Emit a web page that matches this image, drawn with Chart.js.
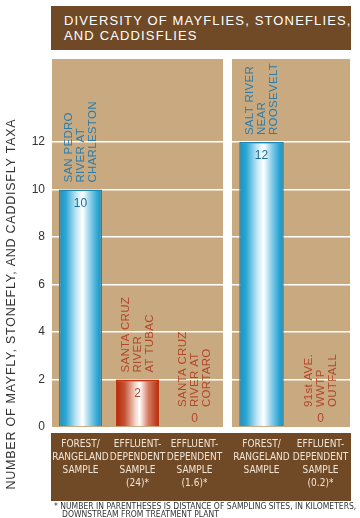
<!DOCTYPE html>
<html>
<head>
<meta charset="utf-8">
<script src="https://cdn.jsdelivr.net/npm/chart.js@4"></script>
<style>
  body { margin: 0; background: #fff; }
  #wrap { position: relative; width: 360px; height: 518px; overflow: hidden; font-family: 'Liberation Sans', Arial, sans-serif; }
  #title { position: absolute; left: 51px; top: 6px; width: 300px; height: 44px; padding-left: 13px; padding-top: 8px; box-sizing: border-box;
           background: #704a27; color: #fff; font-size: 13px; letter-spacing: 1.15px; line-height: 14.5px; white-space: nowrap; }
  #base { position: absolute; left: 51px; top: 433px; width: 300px; height: 68px; background: #704a27; }
  canvas { position: absolute; top: 0; }
  #left { left: 0; }
  #right { left: 227px; }
  .note { position: absolute; font-family: 'Liberation Sans Narrow', 'DejaVu Sans Condensed', sans-serif; font-size: 8.5px; color: #333; white-space: nowrap; }
</style>
</head>
<body>
<div id="wrap">
  <div id="title">DIVERSITY OF MAYFLIES, STONEFLIES,<br>AND CADDISFLIES</div>
  <div id="base"></div>
  <canvas id="left" width="227" height="518"></canvas>
  <canvas id="right" width="133" height="518"></canvas>
  <div class="note" style="left:54px; top:501px;">* NUMBER IN PARENTHESES IS DISTANCE OF SAMPLING SITES, IN KILOMETERS,</div>
  <div class="note" style="left:62px; top:509px;">DOWNSTREAM FROM TREATMENT PLANT</div>
</div>
<script>
// data
const leftCategories = [
  ['FOREST/', 'RANGELAND', 'SAMPLE'],
  ['EFFLUENT-', 'DEPENDENT', 'SAMPLE', '(24)*'],
  ['EFFLUENT-', 'DEPENDENT', 'SAMPLE', '(1.6)*']
];
const leftSites = [
  ['SAN PEDRO', 'RIVER AT', 'CHARLESTON'],
  ['SANTA CRUZ', 'RIVER', 'AT TUBAC'],
  ['SANTA CRUZ', 'RIVER AT', 'CORTARO']
];
const leftTypes = ['forest', 'effluent', 'effluent'];
const leftValues = [10, 2, 0];

const rightCategories = [
  ['FOREST/', 'RANGELAND', 'SAMPLE'],
  ['EFFLUENT-', 'DEPENDENT', 'SAMPLE', '(0.2)*']
];
const rightSites = [
  ['SALT RIVER', 'NEAR', 'ROOSEVELT'],
  ['91st AVE.', 'WWTP', 'OUTFALL']
];
const rightTypes = ['forest', 'effluent'];
const rightValues = [12, 0];

const yTicks = [0, 2, 4, 6, 8, 10, 12];
const yMax = 15.5;
const yTitle = 'NUMBER OF MAYFLY, STONEFLY, AND CADDISFLY TAXA';

const BAR_PCT = 0.755;
const panelColor = '#c9aa80';
const textBlue = '#2a7cab';
const textRed = '#b3452a';
const narrow = "'Liberation Sans Narrow', 'DejaVu Sans Condensed', sans-serif";

function barFill(types) {
  return function(ctx) {
    const chart = ctx.chart;
    const area = chart.chartArea;
    const blue = types[ctx.dataIndex] === 'forest';
    if (!area) return blue ? '#2aa4d2' : '#c8553a';
    const n = chart.data.labels.length;
    const cx = chart.scales.x.getPixelForValue(ctx.dataIndex);
    const hw = area.width / n * BAR_PCT / 2;
    const g = chart.ctx.createLinearGradient(cx - hw, 0, cx + hw, 0);
    if (blue) {
      g.addColorStop(0, '#1a8fc0');
      g.addColorStop(0.15, '#2aa5d3');
      g.addColorStop(0.4, '#bfe6f4');
      g.addColorStop(0.55, '#ffffff');
      g.addColorStop(0.72, '#8fd0ea');
      g.addColorStop(0.9, '#2aa5d3');
      g.addColorStop(1, '#1a8fc0');
    } else {
      g.addColorStop(0, '#b02a08');
      g.addColorStop(0.2, '#c65235');
      g.addColorStop(0.45, '#f3d6ca');
      g.addColorStop(0.55, '#ffffff');
      g.addColorStop(0.75, '#d67c64');
      g.addColorStop(1, '#b02a08');
    }
    return g;
  };
}

// tan panel behind the plot
const panelPlugin = {
  id: 'panel',
  beforeDraw(chart) {
    const a = chart.chartArea, c = chart.ctx;
    c.save();
    c.fillStyle = panelColor;
    c.fillRect(a.left, a.top, a.width, a.bottom - a.top);
    c.restore();
  }
};

// value labels and rotated site names
const siteLabelPlugin = {
  id: 'siteLabels',
  afterDatasetsDraw(chart, args, opts) {
    const c = chart.ctx;
    const meta = chart.getDatasetMeta(0);
    const ys = chart.scales.y;
    const values = chart.data.datasets[0].data;
    meta.data.forEach((bar, i) => {
      const v = values[i];
      const blue = opts.types[i] === 'forest';
      const col = blue ? textBlue : textRed;
      const top = ys.getPixelForValue(v);
      c.save();
      c.fillStyle = col;
      c.font = '12px "Liberation Sans", Arial, sans-serif';
      c.textAlign = 'center';
      c.textBaseline = 'middle';
      let start;
      if (v > 0) {
        c.fillStyle = blue ? '#1f6a98' : '#a8503a';
        c.fillText(String(v), bar.x, top + 14);
        start = top - 7;
      } else {
        c.fillText(String(v), bar.x, top - 8);
        start = top - 20;
      }
      // rotated site name, reading upward
      const lines = opts.names[i];
      c.fillStyle = col;
      c.translate(bar.x, start);
      c.rotate(-Math.PI / 2);
      c.textAlign = 'left';
      c.textBaseline = 'middle';
      c.font = '11.5px "Liberation Sans", Arial, sans-serif';
      if ('letterSpacing' in c) c.letterSpacing = '0.3px';
      lines.forEach((ln, k) => {
        c.fillText(ln, 0, (k - (lines.length - 1) / 2) * 12);
      });
      c.restore();
    });
  }
};

const yTitlePlugin = {
  id: 'yTitle',
  afterDraw(chart, args, opts) {
    if (!opts.text) return;
    const c = chart.ctx;
    c.save();
    c.translate(12, 304);
    c.rotate(-Math.PI / 2);
    c.textAlign = 'center';
    c.textBaseline = 'middle';
    c.fillStyle = '#333';
    c.font = '12.5px "Liberation Sans", Arial, sans-serif';
    if ('letterSpacing' in c) c.letterSpacing = '0.75px';
    c.fillText(opts.text, 0, 0);
    c.restore();
  }
};

function makeChart(id, labels, values, types, names, showY, padding) {
  return new Chart(document.getElementById(id), {
    type: 'bar',
    data: {
      labels: labels,
      datasets: [{
        data: values,
        backgroundColor: barFill(types),
        borderColor: types.map(t => t === 'forest' ? '#1c86b3' : '#c2320f'),
        borderWidth: types.map(t => t === 'forest' ? 1.5 : 2),
        borderSkipped: 'bottom',
        barPercentage: BAR_PCT,
        categoryPercentage: 1
      }]
    },
    options: {
      responsive: false,
      animation: false,
      devicePixelRatio: 1,
      layout: { padding: padding },
      plugins: {
        legend: { display: false },
        tooltip: { enabled: false },
        siteLabels: { names: names, types: types },
        yTitle: { text: showY ? yTitle : '' }
      },
      scales: {
        x: {
          grid: { display: false, drawTicks: false },
          border: { display: false },
          afterFit: s => { s.height = 91; s.paddingLeft = 0; s.paddingRight = 0; },
          ticks: {
            autoSkip: false,
            maxRotation: 0,
            padding: 11,
            color: '#f3e6d6',
            font: { family: narrow, size: 10, lineHeight: 1.3 }
          }
        },
        y: {
          min: 0,
          max: yMax,
          afterBuildTicks: s => { s.ticks = yTicks.map(v => ({ value: v })); },
          afterFit: s => { s.width = showY ? 52 : 0; },
          grid: {
            drawTicks: false,
            color: c => c.tick && c.tick.value === 0 ? 'rgba(0,0,0,0)' : '#ffffff',
            lineWidth: 1.5
          },
          border: { display: false },
          ticks: {
            display: showY,
            padding: 7,
            color: '#333',
            font: { family: "'Liberation Sans', Arial, sans-serif", size: 12 }
          }
        }
      }
    },
    plugins: [panelPlugin, siteLabelPlugin, yTitlePlugin]
  });
}

makeChart('left', leftCategories, leftValues, leftTypes, leftSites, true,
  { top: 59, right: 4, left: 0, bottom: 0 });
makeChart('right', rightCategories, rightValues, rightTypes, rightSites, false,
  { top: 59, right: 10, left: 5, bottom: 0 });
</script>
</body>
</html>
